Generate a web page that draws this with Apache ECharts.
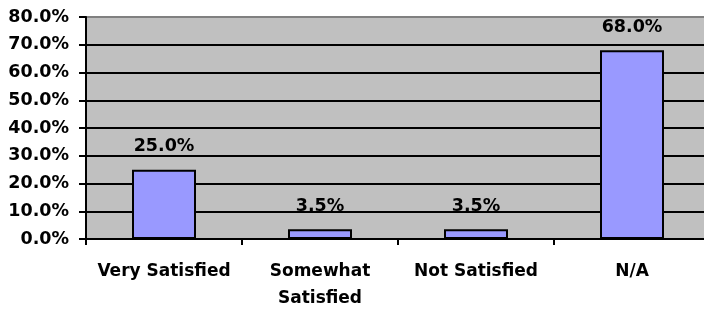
<!DOCTYPE html>
<html style='height: 100%'>
<head>
    <meta charset='utf-8'>
</head>
<body style='height: 100%; margin: 0; background: #fff'>
    <div id='container' style='width: 704px; height: 311px'></div>
    <script type='text/javascript' src='https://cdn.jsdelivr.net/npm/echarts@6/dist/echarts.min.js'></script>
    <script type="text/javascript">

var dom = document.getElementById("container");
var myChart = echarts.init(dom);

// satisfaction survey - share of answers
var categories = ['Very Satisfied', 'Somewhat\nSatisfied', 'Not Satisfied', 'N/A'];
var percentValues = [25.0, 3.5, 3.5, 68.0];
var yTicks = [0, 10, 20, 30, 40, 50, 60, 70, 80];

var font = 'DejaVu Sans';

// black grid lines, top one is the grey plot border
var gridColors = yTicks.map(function (t, i) { return i === yTicks.length - 1 ? '#808080' : '#000'; });

option = {
    animation: false,
    grid: {
        left: 86,
        width: 624,
        top: 17,
        bottom: 72,
        outerBoundsMode: 'none',
        containLabel: false,
        show: true,
        backgroundColor: '#c0c0c0',
        borderColor: '#808080',
        borderWidth: 1
    },
    xAxis: {
        type: 'category',
        data: categories,
        axisLine: { lineStyle: { color: '#000', width: 2 } },
        axisTick: { show: true, length: 6, lineStyle: { color: '#000', width: 2 } },
        axisLabel: {
            margin: 19,
            color: '#000',
            fontFamily: font,
            fontWeight: 'bold',
            fontSize: 17,
            lineHeight: 27,
            interval: 0
        }
    },
    yAxis: {
        type: 'value',
        min: yTicks[0],
        max: yTicks[yTicks.length - 1],
        interval: 10,
        axisLine: { show: true, lineStyle: { color: '#000', width: 2 } },
        axisTick: { show: true, length: 7, lineStyle: { color: '#000', width: 2 } },
        splitLine: { show: true, lineStyle: { color: gridColors, width: 2 } },
        axisLabel: {
            margin: 17,
            color: '#000',
            fontFamily: font,
            fontWeight: 'bold',
            fontSize: 17.5,
            formatter: function (v) { return v.toFixed(1) + '%'; }
        }
    },
    series: [{
        type: 'bar',
        data: percentValues,
        barWidth: 64,
        itemStyle: { color: '#9999ff', borderColor: '#000', borderWidth: 2 },
        label: {
            show: true,
            position: 'top',
            distance: 14,
            color: '#000',
            fontFamily: font,
            fontWeight: 'bold',
            fontSize: 17.5,
            formatter: function (p) { return p.value.toFixed(1) + '%'; }
        }
    }]
};

if (option && typeof option === "object") {
    myChart.setOption(option, true);
}
       </script>
   </body>
</html>
